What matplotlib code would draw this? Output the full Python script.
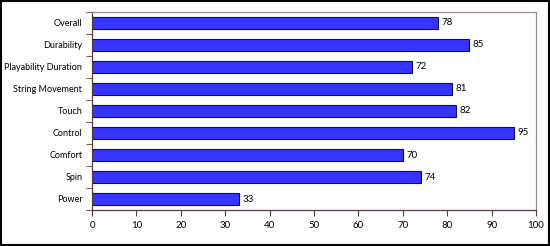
import numpy as np
import matplotlib
matplotlib.use("Agg")
import matplotlib.pyplot as plt
import matplotlib as mpl

mpl.rcParams["font.family"] = ["Lato", "DejaVu Sans"]
mpl.rcParams["font.size"] = 7

categories = ["Power", "Spin", "Comfort", "Control", "Touch",
              "String Movement", "Playability Duration", "Durability", "Overall"]
values = [33, 74, 70, 95, 82, 81, 72, 85, 78]
xticks = [0, 10, 20, 30, 40, 50, 60, 70, 80, 90, 100]

fig = plt.figure(figsize=(5.5, 2.46), dpi=100)
ax = fig.add_axes([92/550, 1-210/246, (536-92)/550, (210-12)/246])

y = np.arange(len(categories))
ax.barh(y, values, height=0.55, color="#3535ff", edgecolor="#10104a", linewidth=0.8)
for yi, v in zip(y, values):
    ax.text(v + 0.8, yi, str(v), va="center", ha="left", fontsize=7)

ax.set_xlim(0, 100)
ax.set_ylim(-0.5, len(categories) - 0.5)
ax.set_xticks(xticks)
ax.set_yticks(y)
ax.set_yticklabels(categories)
ax.set_yticks(np.arange(-0.5, len(categories), 1), minor=True)
ax.tick_params(axis="y", which="major", length=0, pad=7, labelsize=6.5)
ax.tick_params(axis="y", which="minor", length=4, color="#5a3a3a", direction="out")
ax.tick_params(axis="x", length=4, color="#5a3a3a", direction="out", pad=4)

for s in ["left", "bottom"]:
    ax.spines[s].set_color("#5a3a3a")
    ax.spines[s].set_linewidth(0.9)
for s in ["top", "right"]:
    ax.spines[s].set_color("#9c8c8c")
    ax.spines[s].set_linewidth(0.9)

# outer frame
fig.patches.append(plt.Rectangle((0.002, 0.004), 0.996, 0.992, transform=fig.transFigure,
                                 fill=False, edgecolor="black", linewidth=1.5))

fig.savefig("out.png", dpi=100)
